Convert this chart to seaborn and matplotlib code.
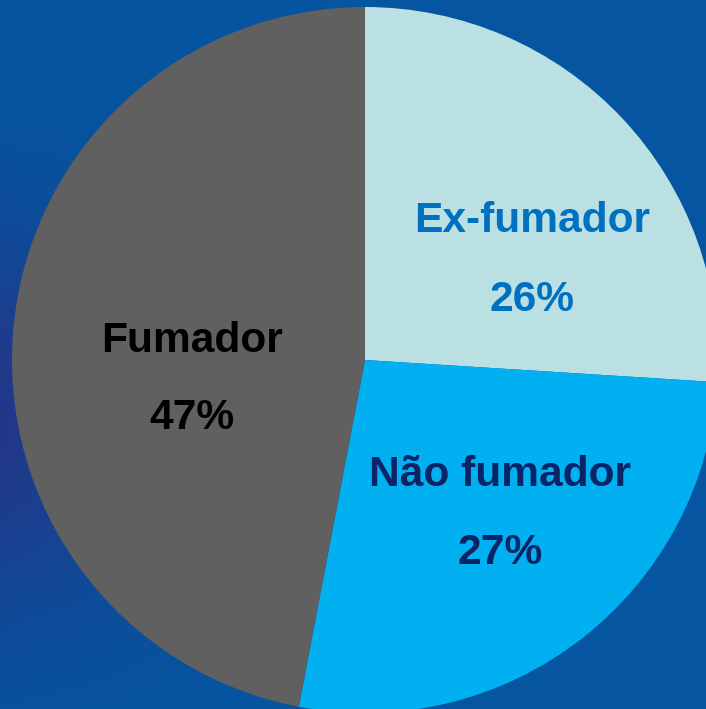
import numpy as np
import matplotlib
matplotlib.use("Agg")
import matplotlib.pyplot as plt
import seaborn as sns

categories = ["Ex-fumador", "Não fumador", "Fumador"]
values = [26, 27, 47]
labels_pct = ["26%", "27%", "47%"]

sns.set_theme(style="white")
plt.rcParams['font.family'] = ['Liberation Sans', 'DejaVu Sans']

colors = sns.color_palette(["#bbe0e3", "#00b0f0", "#606060"])
text_colors = ["#0070c0", "#0b2465", "#000000"]

W, H = 706, 709
fig = plt.figure(figsize=(W / 100, H / 100), dpi=100)

# background gradient
bg = fig.add_axes([0, 0, 1, 1])
bg.set_axis_off()
yy, xx = np.mgrid[0:1:200j, 0:1:200j]
base = np.array([0x05, 0x55, 0xa0]) / 255.0
dark = np.array([0x22, 0x38, 0x8a]) / 255.0
w = np.clip(1 - xx * 2.2, 0, 1) * np.exp(-((yy - 0.6) ** 2) / 0.08)
img = base[None, None, :] * (1 - w[..., None]) + dark[None, None, :] * w[..., None]
bg.imshow(img, extent=[0, 1, 0, 1], aspect="auto", origin="upper")
bg.set_xlim(0, 1)
bg.set_ylim(0, 1)

ax = fig.add_axes([0, 0, 1, 1])
ax.set_axis_off()
ax.patch.set_alpha(0)
R = 353.0
cx, cy = 365.0, 360.0
ax.pie(values, colors=colors, startangle=90, counterclock=False,
       radius=1.0, center=(0, 0), frame=False,
       wedgeprops=dict(linewidth=0))
ax.set_xlim(-cx / R, (W - cx) / R)
ax.set_ylim(-(H - cy) / R, cy / R)
ax.set_aspect("auto")

def px(x, y):
    return ((x - cx) / R, (cy - y) / R)

pos = {
    "Ex-fumador": ((532, 221), (532, 300)),
    "Não fumador": ((500, 475), (500, 553)),
    "Fumador": ((192, 341), (192, 418)),
}
for cat, pct, tc in zip(categories, labels_pct, text_colors):
    (x1, y1), (x2, y2) = pos[cat]
    ax.text(*px(x1, y1), cat, ha="center", va="center", fontsize=30.6,
            fontweight="bold", color=tc)
    ax.text(*px(x2, y2), pct, ha="center", va="center", fontsize=30.6,
            fontweight="bold", color=tc)

fig.savefig("out.png", dpi=100)
